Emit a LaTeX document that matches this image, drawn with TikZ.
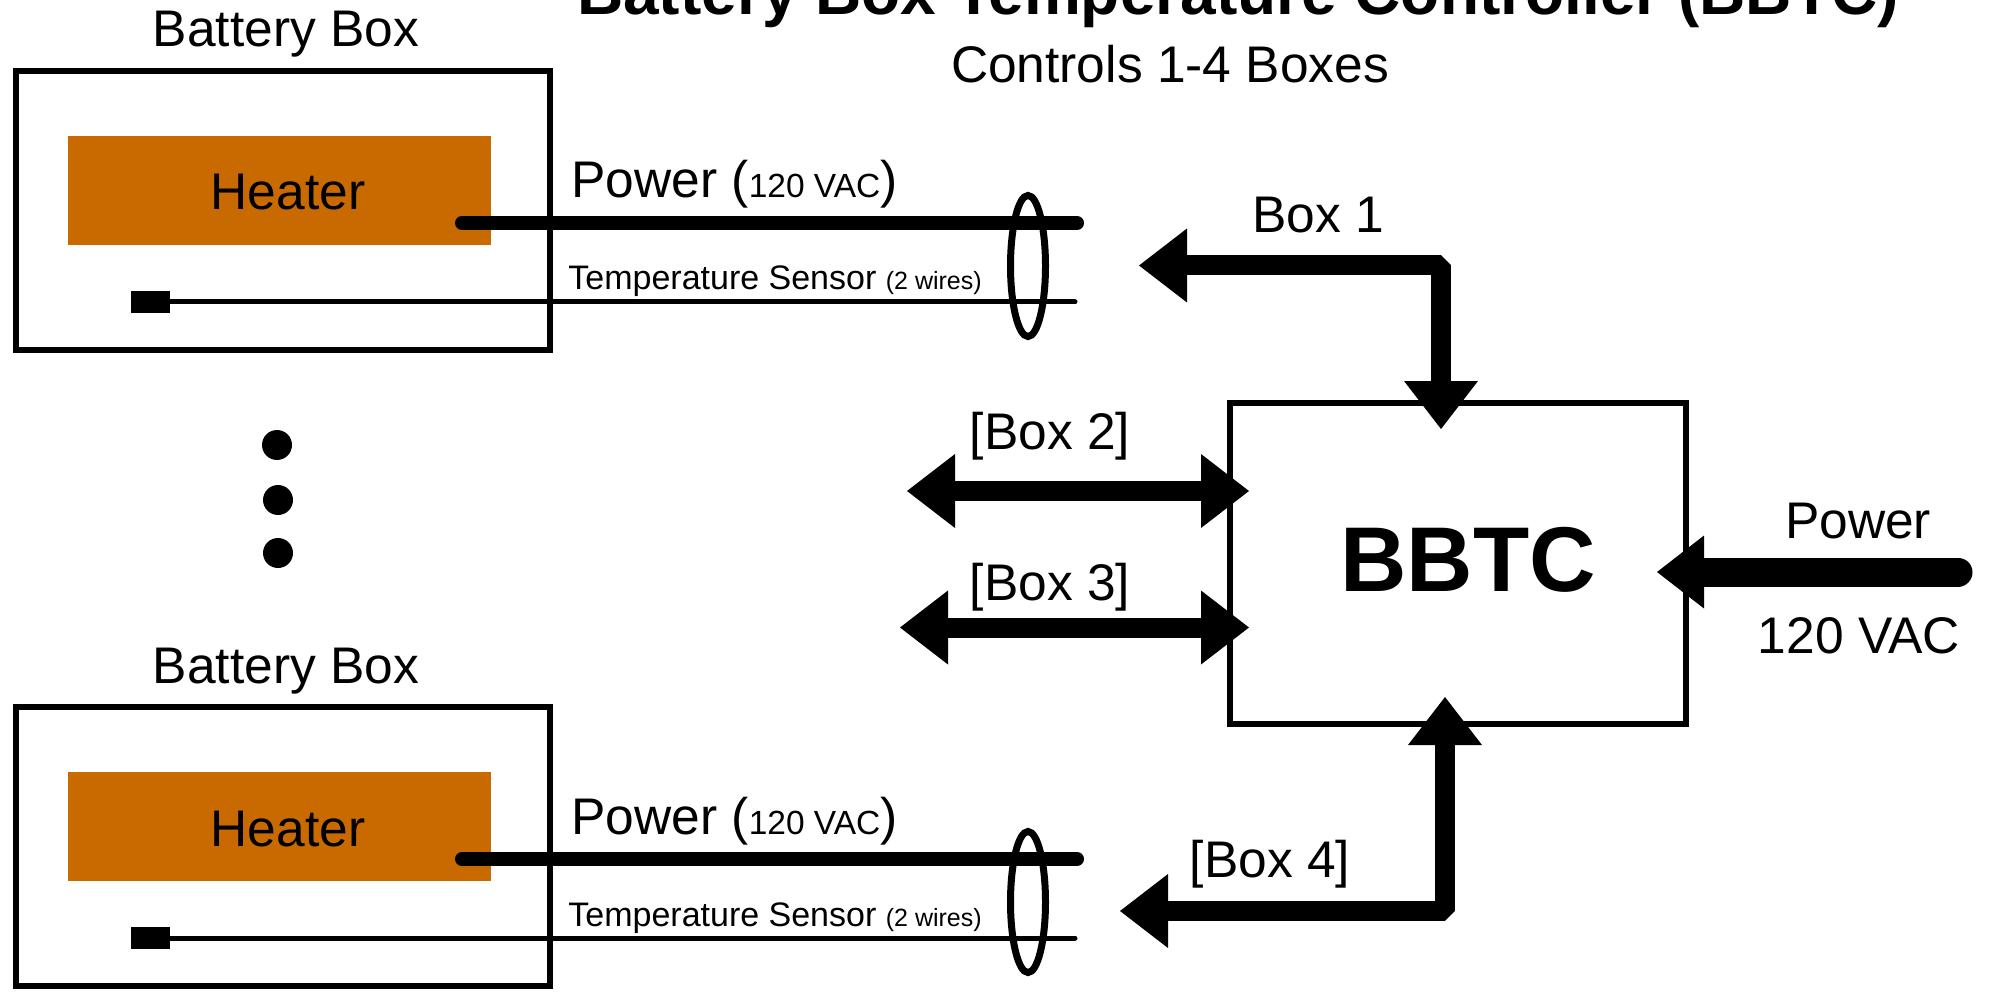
\documentclass[tikz,border=0pt]{standalone}
\usepackage{fontspec}
\setmainfont{Liberation Sans}
\usetikzlibrary{arrows.meta,shapes.geometric}
\definecolor{heater}{RGB}{200,106,0}
\begin{document}
\begin{tikzpicture}[x=0.5pt,y=-0.5pt,
  lbl/.style={inner sep=0pt, anchor=base, font=\fontsize{25.75}{30}\selectfont},
  boxline/.style={draw, line width=3pt, inner sep=0pt},
  heaterbox/.style={fill=heater, inner sep=0pt, minimum width=211.5pt, minimum height=54.5pt},
  sensorblk/.style={fill=black, inner sep=0pt, minimum width=19.5pt, minimum height=11pt},
  bundle/.style={ellipse, draw, line width=3.5pt, inner sep=0pt, minimum width=17.5pt, minimum height=70.5pt},
  cable/.style={line width=7pt, line cap=round},
  sensewire/.style={line width=2.5pt, line cap=round},
  dotmark/.style={circle, fill=black, inner sep=0pt, minimum size=15pt},
  fat/.style={line width=10pt, line join=bevel, {Triangle[length=24pt,width=37pt,line width=0pt]}-{Triangle[length=24pt,width=37pt,line width=0pt]}},
]
\useasboundingbox (0,0) rectangle (1992,1000);

% Title
\node[inner sep=0pt, anchor=base, font=\fontsize{32}{36}\selectfont\bfseries] (title) at (1238,15) {Battery Box Temperature Controller (BBTC)};
\node[lbl] (subtitle) at (1170,83) {Controls 1-4 Boxes};

% ---------- top battery box ----------
\node[lbl] (bb1t) at (286,47) {Battery Box};
\node[boxline, minimum width=267pt, minimum height=139.5pt] (bb1) at (283,210.5) {};
\node[heaterbox] (ht1) at (279.5,190.5) {};
\node[lbl] (ht1t) at (288,210) {Heater};
\node[sensorblk] (sn1) at (150.5,302) {};
\coordinate (pw1a) at (462,223);
\coordinate (pw1b) at (1077,223);
\coordinate (ts1b) at (1075,302);
\draw[cable] (pw1a) -- (pw1b);
\draw[sensewire] (sn1.east) -- (ts1b);
\node[bundle] (el1) at (1028,266) {};
\node[lbl, anchor=base west] (pl1) at (571,198) {Power ({\fontsize{16.75}{20}\selectfont 120 VAC})};
\node[inner sep=0pt, anchor=base west, font=\fontsize{17}{20}\selectfont] (tl1) at (568,290) {Temperature Sensor {\fontsize{12.5}{15}\selectfont (2 wires)}};

% ---------- dots ----------
\node[dotmark] (d1) at (277,445) {};
\node[dotmark] (d2) at (278,500) {};
\node[dotmark] (d3) at (278,553) {};

% ---------- bottom battery box ----------
\node[lbl] (bb2t) at (286,683) {Battery Box};
\node[boxline, minimum width=267pt, minimum height=139.5pt] (bb2) at (283,846.5) {};
\node[heaterbox] (ht2) at (279.5,826.5) {};
\node[lbl] (ht2t) at (288,846) {Heater};
\node[sensorblk] (sn2) at (150.5,938) {};
\coordinate (pw2a) at (462,859);
\coordinate (pw2b) at (1077,859);
\coordinate (ts2b) at (1075,938);
\draw[cable] (pw2a) -- (pw2b);
\draw[sensewire] (sn2.east) -- (ts2b);
\node[bundle] (el2) at (1028,902) {};
\node[lbl, anchor=base west] (pl2) at (571,834) {Power ({\fontsize{16.75}{20}\selectfont 120 VAC})};
\node[inner sep=0pt, anchor=base west, font=\fontsize{17}{20}\selectfont] (tl2) at (568,926) {Temperature Sensor {\fontsize{12.5}{15}\selectfont (2 wires)}};

% ---------- BBTC ----------
\node[boxline, minimum width=228.25pt, minimum height=160.75pt] (bbtc) at (1457.75,563.25) {};
\node[inner sep=0pt, anchor=base, font=\fontsize{46}{50}\selectfont\bfseries] (bbtct) at (1468,591) {BBTC};

% Box 1
\coordinate (b1out) at (1139,265.5);
\coordinate (b1c) at (1441,265.5);
\coordinate (b1in) at (1441,429);
\draw[fat] (b1out) -- (b1c) -- (b1in);
\node[lbl] (b1t) at (1318,233) {Box 1};

% Box 2
\coordinate (b2out) at (907,491);
\coordinate (b2in) at (1249,491);
\draw[fat] (b2out) -- (b2in);
\node[lbl] (b2t) at (1050,449) {[Box 2]};

% Box 3
\coordinate (b3out) at (900,627.5);
\coordinate (b3in) at (1249,627.5);
\draw[fat] (b3out) -- (b3in);
\node[lbl] (b3t) at (1050,600) {[Box 3]};

% Box 4
\coordinate (b4out) at (1120,911);
\coordinate (b4c) at (1445,911);
\coordinate (b4in) at (1445,697);
\draw[fat] (b4out) -- (b4c) -- (b4in);
\node[lbl] (b4t) at (1270,877) {[Box 4]};

% Power in
\coordinate (pwin) at (1958,572);
\coordinate (pwtip) at (1657,572);
\draw[line width=14.5pt, line cap=round, -{Triangle[length=23.5pt,width=36.5pt,line width=0pt]}] (pwin) -- (pwtip);
\node[lbl] (pwt) at (1858,538) {Power};
\node[lbl] (pwv) at (1859,653) {120 VAC};
\end{tikzpicture}
\end{document}
